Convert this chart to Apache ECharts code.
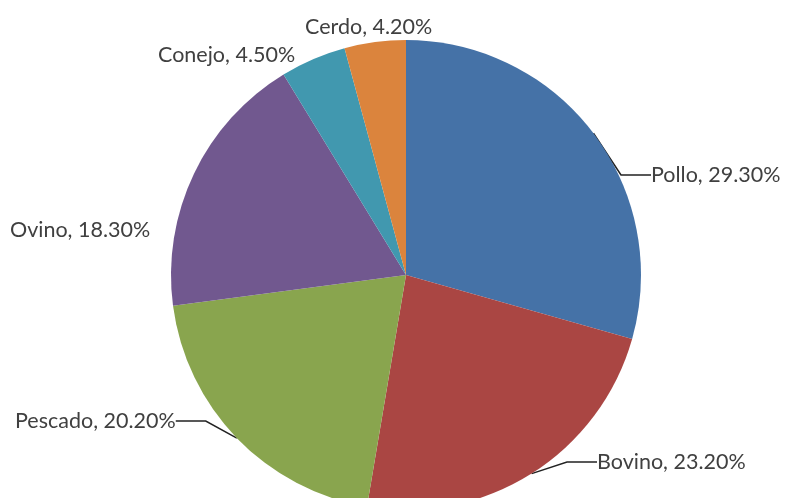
<!DOCTYPE html>
<html>
<head>
<meta charset="utf-8">
<script src="https://cdn.jsdelivr.net/npm/echarts@6/dist/echarts.min.js"></script>
<style>
  html, body { margin: 0; padding: 0; background: #fff; }
  #main { width: 785px; height: 498px; }
</style>
</head>
<body>
<div id="main"></div>
<script>
// datos
var categorias = ["Pollo", "Bovino", "Pescado", "Ovino", "Conejo", "Cerdo"];
var valores = [29.3, 23.2, 20.2, 18.3, 4.5, 4.2];

// estilo
var colores = ["#4572A7", "#AA4643", "#89A54E", "#71588F", "#4198AF", "#DB843D"];
var posEtiquetas = [[651, 175], [597, 462], [15, 421], [10, 230], [158, 55], [305, 27]];
var conLinea = [true, true, true, false, false, false];

var chart = echarts.init(document.getElementById("main"));
chart.setOption({
    animation: false,
    color: colores,
    series: [{
        type: "pie",
        center: [406, 275],
        radius: 235,
        startAngle: 90,
        clockwise: true,
        data: categorias.map(function(n, i) {
            return {name: n, value: valores[i], labelLine: {show: conLinea[i]}};
        }),
        label: {
            show: true, position: "outside",
            fontFamily: "Lato", fontSize: 21.5, color: "#404040",
            formatter: function(p) { return p.name + ", " + p.value.toFixed(2) + "%"; }
        },
        labelLine: {lineStyle: {color: "#222", width: 1.5}},
        labelLayout: function(params) {
            var p = posEtiquetas[params.dataIndex];
            return {x: p[0], y: p[1], align: "left", verticalAlign: "middle"};
        },
        emphasis: {disabled: true}
    }]
});
</script>
</body>
</html>
